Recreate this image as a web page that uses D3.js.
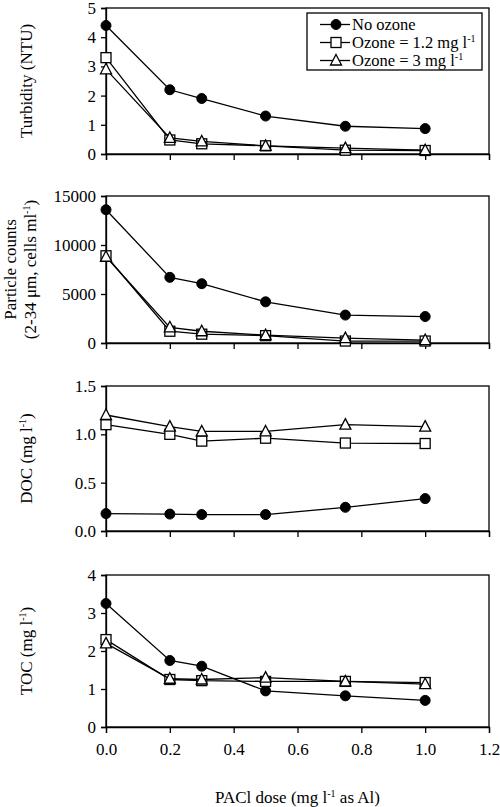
<!DOCTYPE html>
<html>
<head>
<meta charset="utf-8">
<script src="https://cdn.jsdelivr.net/npm/d3@7"></script>
<style>
body{margin:0;background:#fff}
svg text{font-family:"Liberation Serif","Times New Roman",Times,"DejaVu Serif",serif !important;fill:#000}
</style>
</head>
<body>
<div id="chart"></div>
<script>
var w = 500
var h = 807

// PACl dose (mg l-1 as Al)
var dose = [0, 0.2, 0.3, 0.5, 0.75, 1.0]
var seriesNames = ["No ozone", "Ozone = 1.2 mg l", "Ozone = 3 mg l"]
var seriesSup = ["", "-1", "-1"]
var seriesSymbols = ["circle", "square", "triangle"]

var turbNone = [4.4, 2.2, 1.9, 1.3, 0.95, 0.87]
var turbO12 = [3.3, 0.48, 0.35, 0.28, 0.13, 0.12]
var turbO3 = [2.9, 0.55, 0.43, 0.28, 0.2, 0.13]

var partNone = [13600, 6700, 6050, 4200, 2850, 2700]
var partO12 = [8900, 1200, 900, 750, 200, 200]
var partO3 = [8800, 1600, 1200, 800, 500, 300]

var docNone = [0.18, 0.175, 0.17, 0.17, 0.245, 0.335]
var docO12 = [1.1, 1.0, 0.93, 0.96, 0.91, 0.905]
var docO3 = [1.2, 1.08, 1.03, 1.03, 1.1, 1.08]

var tocNone = [3.25, 1.75, 1.6, 0.95, 0.82, 0.7]
var tocO12 = [2.3, 1.25, 1.22, 1.2, 1.2, 1.17]
var tocO3 = [2.2, 1.27, 1.25, 1.3, 1.2, 1.13]

var xTicks = [0, 0.2, 0.4, 0.6, 0.8, 1.0, 1.2]

var panels = [
    {series:[turbNone, turbO12, turbO3], max:5, ticks:[0,1,2,3,4,5], fmt:d3.format("d"),
     label:[["Turbidity (NTU)"]], top:8, bottom:154},
    {series:[partNone, partO12, partO3], max:15000, ticks:[0,5000,10000,15000], fmt:d3.format("d"),
     label:[["Particle counts"],["(2-34 \u03bcm, cells ml","-1",")"]], top:196, bottom:343},
    {series:[docNone, docO12, docO3], max:1.5, ticks:[0,0.5,1,1.5], fmt:d3.format(".1f"),
     label:[["DOC (mg l","-1",")"]], top:386, bottom:531},
    {series:[tocNone, tocO12, tocO3], max:4, ticks:[0,1,2,3,4], fmt:d3.format("d"),
     label:[["TOC (mg l","-1",")"]], top:575, bottom:727}
]

var left = 106
var right = 489

var svg = d3.select("#chart").append("svg").attr("width", w).attr("height", h)
    .attr("font-family", "Liberation Serif")

var x = d3.scaleLinear().domain([0, 1.2]).range([left, right])

function addRich(textSel, parts){
    // parts: [normal, superscript, normal]
    textSel.append("tspan").text(parts[0])
    if(parts.length > 1){
        textSel.append("tspan").attr("dy", -6).attr("font-size", 10).text(parts[1])
        textSel.append("tspan").attr("dy", 6).text(parts[2] || "")
    }
}

function drawSymbol(g, type, cx, cy){
    if(type == "circle"){
        g.append("circle").attr("cx", cx).attr("cy", cy).attr("r", 5)
            .attr("fill", "#000").attr("stroke", "#000")
    }else if(type == "square"){
        g.append("rect").attr("x", cx-5).attr("y", cy-5).attr("width", 10).attr("height", 10)
            .attr("fill", "#fff").attr("stroke", "#000").attr("stroke-width", 1.3)
    }else{
        g.append("path").attr("d", "M"+cx+","+(cy-6)+"L"+(cx+5.5)+","+(cy+4.5)+"L"+(cx-5.5)+","+(cy+4.5)+"Z")
            .attr("fill", "#fff").attr("stroke", "#000").attr("stroke-width", 1.3)
    }
}

panels.forEach(function(p, pi){
    var y = d3.scaleLinear().domain([0, p.max]).range([p.bottom, p.top])
    var g = svg.append("g")

    // frame
    g.append("rect").attr("x", left).attr("y", p.top)
        .attr("width", right-left).attr("height", p.bottom-p.top)
        .attr("fill", "none").attr("stroke", "#000").attr("stroke-width", 1.3)

    var yAxis = g.append("g").attr("transform", "translate("+left+",0)")
        .call(d3.axisLeft(y).tickValues(p.ticks).tickFormat(p.fmt).tickSize(5).tickPadding(5))
    var xAxis = g.append("g").attr("transform", "translate(0,"+p.bottom+")")
        .call(d3.axisBottom(x).tickValues(xTicks).tickFormat(pi == 3 ? d3.format(".1f") : "").tickSize(6).tickPadding(10))

    yAxis.attr("font-family", null)
    xAxis.attr("font-family", null)
    g.selectAll(".domain").attr("stroke", "#000").attr("stroke-width", 1.3)
    g.selectAll(".tick line").attr("stroke", "#000").attr("stroke-width", 1.3)
    g.selectAll(".tick text").attr("font-size", 17).attr("fill", "#000")

    // y label
    var cy = (p.top + p.bottom) / 2
    var n = p.label.length
    p.label.forEach(function(parts, li){
        var lx = n == 1 ? 32 : 16 + li*20
        var t = g.append("text")
            .attr("transform", "translate("+lx+","+cy+") rotate(-90)")
            .attr("text-anchor", "middle")
            .attr("font-size", 17)
        addRich(t, parts)
    })

    // series
    var line = d3.line().x(function(d, i){ return x(dose[i]) }).y(function(d){ return y(d) })
    p.series.forEach(function(s, si){
        g.append("path").datum(s).attr("d", line)
            .attr("fill", "none").attr("stroke", "#000").attr("stroke-width", 1.3)
        var mg = g.append("g")
        s.forEach(function(v, i){
            drawSymbol(mg, seriesSymbols[si], x(dose[i]), y(v))
        })
    })
})

// x title
var xt = svg.append("text").attr("x", (left+right)/2).attr("y", 803)
    .attr("text-anchor", "middle").attr("font-size", 17)
addRich(xt, ["PACl dose (mg l", "-1", " as Al)"])

// legend
var lg = svg.append("g")
lg.append("rect").attr("x", 307).attr("y", 13).attr("width", 175).attr("height", 57)
    .attr("fill", "#fff").attr("stroke", "#000").attr("stroke-width", 1.3)
var rowY = [24.5, 42.5, 60.5]
seriesNames.forEach(function(name, i){
    lg.append("line").attr("x1", 320).attr("x2", 350).attr("y1", rowY[i]).attr("y2", rowY[i])
        .attr("stroke", "#000").attr("stroke-width", 1.3)
    drawSymbol(lg, seriesSymbols[i], 336, rowY[i])
    var t = lg.append("text").attr("x", 352).attr("y", rowY[i]+5.5).attr("font-size", 16.5)
    if(seriesSup[i]) addRich(t, [name, seriesSup[i], ""])
    else addRich(t, [name])
})
</script>
</body>
</html>
